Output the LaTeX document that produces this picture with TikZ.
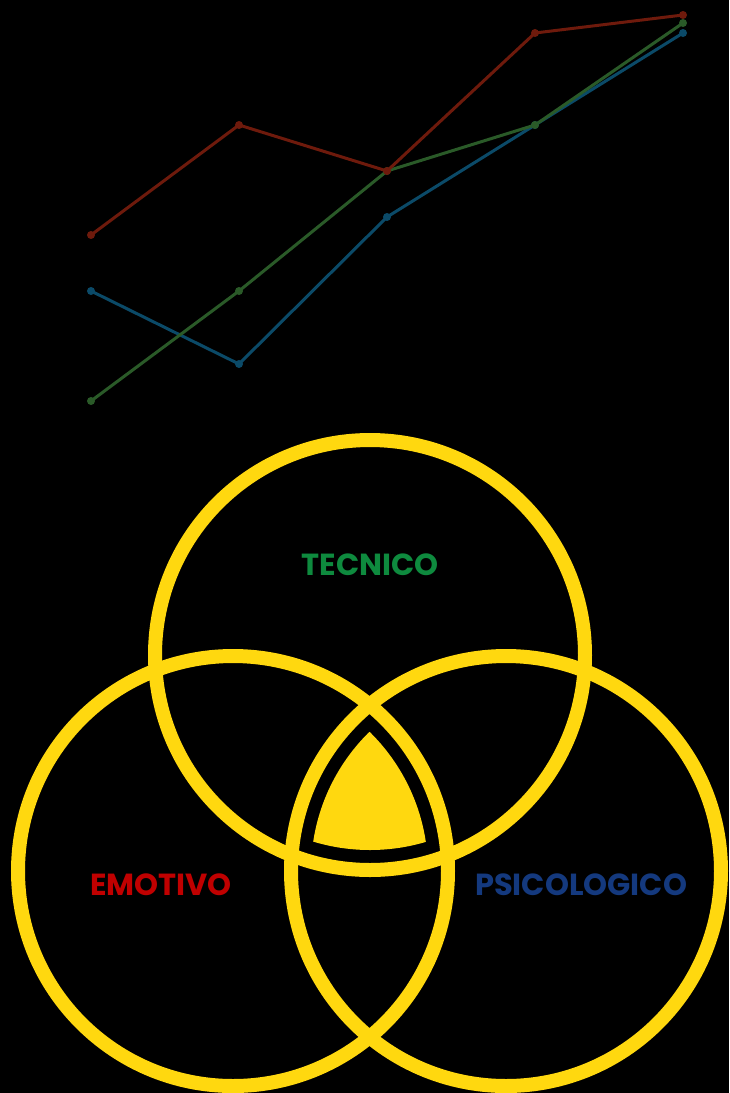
\documentclass[tikz,border=0pt]{standalone}
\usepackage{fontspec}
\newfontfamily\popfont{Poppins}
\definecolor{ringyellow}{HTML}{FFD80F}
\definecolor{lred}{HTML}{6E1A0C}
\definecolor{lgreen}{HTML}{2A5A28}
\definecolor{lblue}{HTML}{0B4A68}
\definecolor{tgreen}{HTML}{0E8A3E}
\definecolor{tred}{HTML}{C00000}
\definecolor{tblue}{HTML}{14397E}
\tikzset{
  ring/.style={draw=ringyellow, line width=14pt},
  series/.style={line width=3pt, line join=round},
  dot/.style={circle, inner sep=0pt, minimum size=8pt},
  label/.style={font=\popfont\bfseries\fontsize{30.5}{32}\selectfont, inner sep=0pt}
}
\begin{document}
\begin{tikzpicture}[x=1pt,y=-1pt]
\fill[black] (0,0) rectangle (729,1093);
\useasboundingbox (0,0) rectangle (729,1093);
% line chart
\foreach \n/\x/\y in {1/91/235,2/239/125,3/387/171,4/535/33,5/683/15}
  \coordinate (r\n) at (\x,\y);
\foreach \n/\x/\y in {1/91/401,2/239/291,3/387/171,4/535/125,5/683/23}
  \coordinate (g\n) at (\x,\y);
\foreach \n/\x/\y in {1/91/291,2/239/364,3/387/217,4/535/125,5/683/33}
  \coordinate (b\n) at (\x,\y);
\draw[series, lblue] (b1) -- (b2) -- (b3) -- (b4) -- (b5);
\draw[series, lgreen] (g1) -- (g2) -- (g3) -- (g4) -- (g5);
\draw[series, lred] (r1) -- (r2) -- (r3) -- (r4) -- (r5);
\foreach \n in {1,...,5} {
  \node[dot, fill=lblue] (bd\n) at (b\n) {};
  \node[dot, fill=lgreen] (gd\n) at (g\n) {};
  \node[dot, fill=lred] (rd\n) at (r\n) {};
}
% venn
\draw[ring] (370,655) circle[radius=215pt];
\draw[ring] (233,871) circle[radius=215pt];
\draw[ring] (506,871) circle[radius=215pt];
\begin{scope}
  \clip (370,655) circle[radius=195pt];
  \clip (233,871) circle[radius=195pt];
  \fill[ringyellow] (506,871) circle[radius=195pt];
\end{scope}
\node[label, text=tgreen] (tec) at (370,565) {TECNICO};
\node[label, text=tred] (emo) at (161,885) {EMOTIVO};
\node[label, text=tblue] (psi) at (581,885) {PSICOLOGICO};
\end{tikzpicture}
\end{document}
